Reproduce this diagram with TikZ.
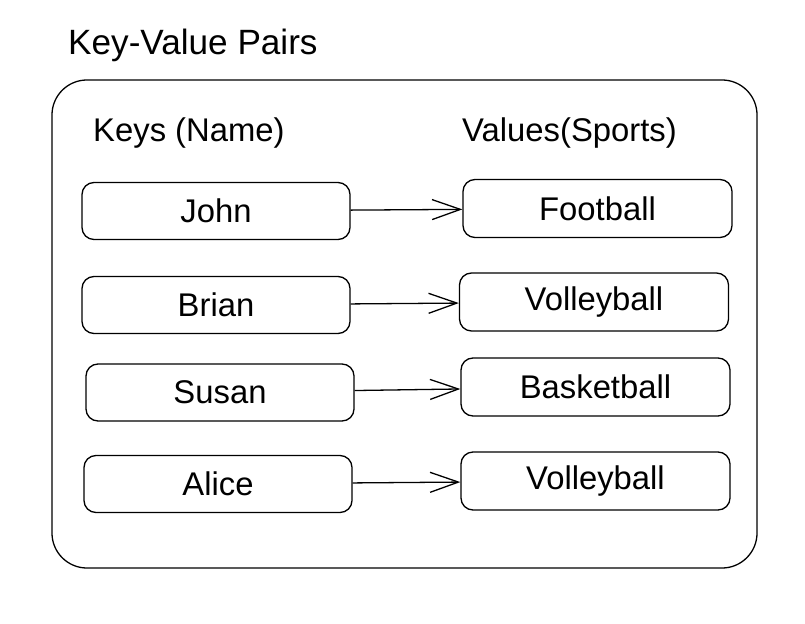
\documentclass[tikz,border=0pt]{standalone}
\usepackage{fontspec}
\setmainfont{Liberation Sans}
\usepackage{tikz}
\usetikzlibrary{arrows.meta, positioning}

\begin{document}
\begin{tikzpicture}[
  x=0.03cm, y=-0.03cm,
  frame/.style={draw, rounded corners=1.05cm, line width=1.1pt, minimum width=21.15cm, minimum height=14.64cm},
  keybox/.style={draw, rounded corners=0.36cm, line width=1.1pt, minimum width=8.04cm, minimum height=1.71cm, font=\fontsize{28}{32}\selectfont},
  valbox/.style={draw, rounded corners=0.36cm, line width=1.1pt, minimum width=8.07cm, minimum height=1.74cm, font=\fontsize{28}{32}\selectfont},
  head/.style={font=\fontsize{28}{32}\selectfont, anchor=west, inner sep=0pt},
  arr/.style={-{Straight Barb[length=0.85cm, width=0.6cm]}, line width=1.1pt}
]
\useasboundingbox (0,0) rectangle (805,624);

% Title and container
\node[head, font=\fontsize{30}{34}\selectfont] (T) at (68,45) {Key-Value Pairs};
\node[frame] (F) at (404.5,324) {};

% Column headings
\node[head] (HK) at (93,133) {Keys (Name)};
\node[head] (HV) at (462,133) {Values(Sports)};

% Keys
\node[keybox] (John)  at (216,211)   {John};
\node[keybox] (Brian) at (216,305)   {Brian};
\node[keybox] (Susan) at (220,392.5) {Susan};
\node[keybox] (Alice) at (218,484)   {Alice};

% Values
\node[valbox] (Foot)  at (597.5,208.5) {Football};
\node[valbox] (Volly) at (594,302)     {Volleyball};
\node[valbox] (Bask)  at (595.5,387)   {Basketball};
\node[valbox] (VollyB) at (595.5,481)  {Volleyball};

% Arrows key -> value
\draw[arr] (John)  -- (Foot);
\draw[arr] (Brian) -- (Volly);
\draw[arr] (Susan) -- (Bask);
\draw[arr] (Alice) -- (VollyB);

\end{tikzpicture}
\end{document}
